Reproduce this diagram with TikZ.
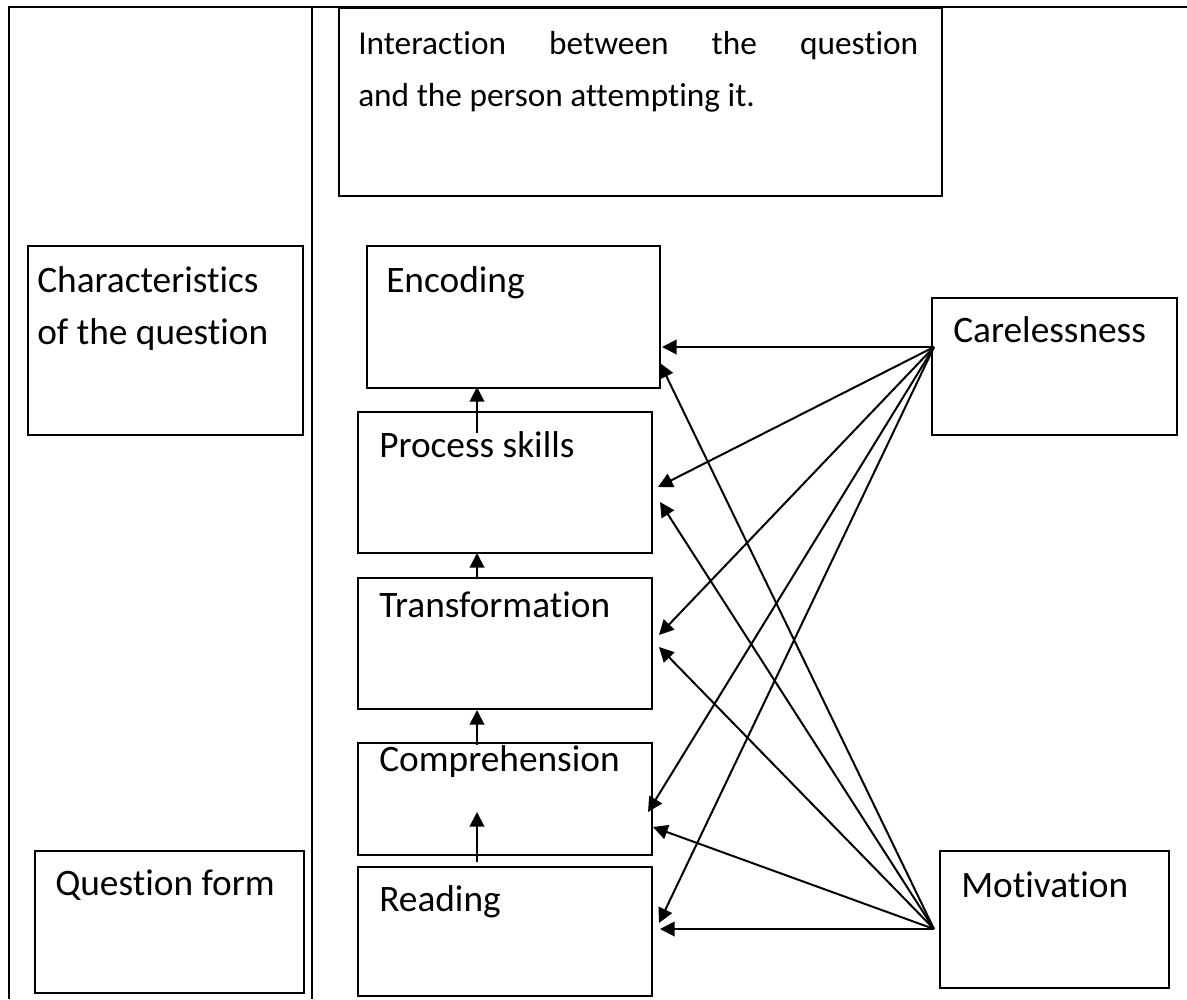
\documentclass[tikz,border=0pt]{standalone}
\usepackage{fontspec}
\setmainfont{Carlito}[Ligatures=NoCommon]
\usetikzlibrary{arrows.meta}
\begin{document}
\begin{tikzpicture}[x=0.75pt,y=-0.75pt,
  frameline/.style={line width=1.5pt},
  box/.style={draw, line width=1.5pt, anchor=north west, inner sep=0pt},
  lbl/.style={anchor=base west, inner sep=0pt, font=\fontsize{28}{33}\selectfont},
  arr/.style={line width=1.5pt, -{Triangle[length=11pt,width=11pt]}}]
\useasboundingbox (0,0) rectangle (1187,999);
% frame
\draw[frameline] (9,999) -- (9,7) -- (1187,7);
\draw[frameline] (312,7) -- (312,999);
% boxes
\node[box, minimum width=452.25pt, minimum height=141pt] (inter) at (338,7) {};
\node[box, minimum width=206.25pt, minimum height=141.75pt] (chars) at (27,245) {};
\node[box, minimum width=201.75pt, minimum height=106.5pt] (qform) at (34,850) {};
\node[box, minimum width=219.75pt, minimum height=106.5pt] (enc) at (366,245) {};
\node[box, minimum width=220.5pt, minimum height=105.75pt] (proc) at (357,411) {};
\node[box, minimum width=220.5pt, minimum height=98.25pt] (trans) at (357,577) {};
\node[box, minimum width=220.5pt, minimum height=84pt] (comp) at (357,742) {};
\node[box, minimum width=220.5pt, minimum height=96.75pt] (read) at (357,866) {};
\node[box, minimum width=183.75pt, minimum height=102.75pt] (care) at (931,297) {};
\node[box, minimum width=171.75pt, minimum height=102.75pt] (moti) at (939,850) {};
% texts
\node[anchor=north west, inner sep=0pt, text width=420pt, align=justify,
      font=\fontsize{25}{39}\selectfont] (intert) at (358,31)
  {Interaction between the question\linebreak and the person attempting it.};
\node[lbl] (charst1) at (37,292) {Characteristics};
\node[lbl] (charst2) at (37,344) {of the question};
\node[lbl] (qformt) at (55,895) {Question form};
\node[lbl] (enct) at (386,292) {Encoding};
\node[lbl] (proct) at (379,457) {Process skills};
\node[lbl] (transt) at (379,617) {Transformation};
\node[lbl] (compt) at (379,771) {Comprehension};
\node[lbl] (readt) at (379,911) {Reading};
\node[lbl] (caret) at (953,342) {Carelessness};
\node[lbl] (motit) at (961,897) {Motivation};
% fan origins and tips
\coordinate (c0) at (934,347);
\coordinate (m0) at (934,929);
\coordinate (ce) at (662,347);
\coordinate (cp) at (658,487);
\coordinate (ct) at (659,635);
\coordinate (cc) at (648,812);
\coordinate (cr) at (659,923);
\coordinate (me) at (660,363);
\coordinate (mp) at (660,502);
\coordinate (mt) at (659,647);
\coordinate (mc) at (653,827);
\coordinate (mr) at (660,929);
\foreach \t in {ce,cp,ct,cc,cr} \draw[arr] (c0) -- (\t);
\foreach \t in {me,mp,mt,mc,mr} \draw[arr] (m0) -- (\t);
% vertical arrows
\coordinate (v1a) at (477,433); \coordinate (v1b) at (477,387);
\coordinate (v2a) at (477,577); \coordinate (v2b) at (477,553);
\coordinate (v3a) at (477,745); \coordinate (v3b) at (477,710);
\coordinate (v4a) at (477,862); \coordinate (v4b) at (477,812);
\draw[arr] (v1a) -- (v1b);
\draw[arr] (v2a) -- (v2b);
\draw[arr] (v3a) -- (v3b);
\draw[arr] (v4a) -- (v4b);
\end{tikzpicture}
\end{document}
